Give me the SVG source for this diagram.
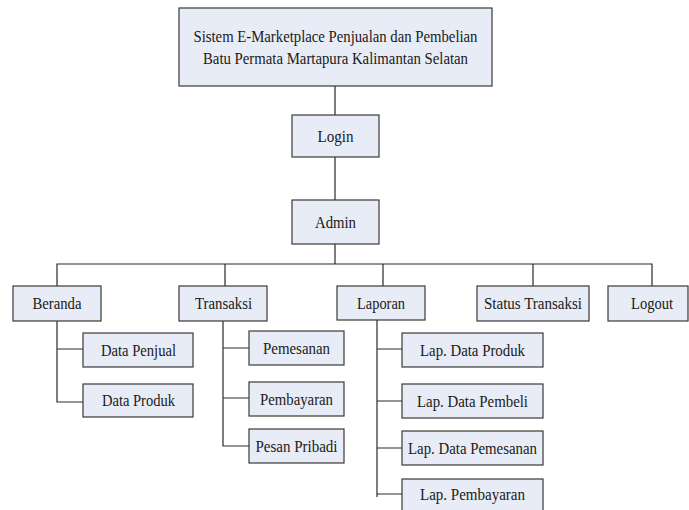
<svg xmlns="http://www.w3.org/2000/svg" width="689" height="510" viewBox="0 0 689 510">
  <style>
    .box { fill: #e7ecf6; stroke: #3a3a3a; stroke-width: 1.2; }
    .lbl { font-family: "Liberation Serif", "Times New Roman", serif; font-size: 16px; fill: #1a1a1a; text-anchor: middle; }
    .conn { stroke: #2a2a2a; stroke-width: 1.2; fill: none; }
  </style>
  <rect width="689" height="510" fill="#ffffff"/>

  <g id="connectors">
    <path class="conn" d="M335 86V115M335 157V200M335 244V264"/>
    <path class="conn" d="M57 286V264H652V286M225 264V286M383 264V286M533 264V286"/>
    <!-- Beranda branch -->
    <path class="conn" d="M57 321V402H83M57 349H83"/>
    <!-- Transaksi branch -->
    <path class="conn" d="M223 321V446H249M223 348H249M223 398H249"/>
    <!-- Laporan branch -->
    <path class="conn" d="M377 320V497M377 349H402M377 401H402M377 448H402M377 494H402"/>
  </g>

  <g id="sistem">
    <rect class="box" x="179" y="8" width="313" height="78"/>
    <text class="lbl" x="335.5" y="42" textLength="284" lengthAdjust="spacingAndGlyphs">Sistem E-Marketplace Penjualan dan Pembelian</text>
    <text class="lbl" x="335.5" y="64" textLength="265" lengthAdjust="spacingAndGlyphs">Batu Permata Martapura Kalimantan Selatan</text>
  </g>
  <g id="login">
    <rect class="box" x="292" y="115" width="87" height="42"/>
    <text class="lbl" x="335.5" y="142" textLength="36" lengthAdjust="spacingAndGlyphs">Login</text>
  </g>
  <g id="admin">
    <rect class="box" x="292" y="200" width="87" height="44"/>
    <text class="lbl" x="335.5" y="228" textLength="41" lengthAdjust="spacingAndGlyphs">Admin</text>
  </g>

  <g id="beranda">
    <rect class="box" x="13" y="286" width="88" height="35"/>
    <text class="lbl" x="57" y="309" textLength="49" lengthAdjust="spacingAndGlyphs">Beranda</text>
  </g>
  <g id="transaksi">
    <rect class="box" x="179" y="286" width="88" height="35"/>
    <text class="lbl" x="223.5" y="309" textLength="57" lengthAdjust="spacingAndGlyphs">Transaksi</text>
  </g>
  <g id="laporan">
    <rect class="box" x="337" y="286" width="88" height="34"/>
    <text class="lbl" x="381" y="308.5" textLength="48" lengthAdjust="spacingAndGlyphs">Laporan</text>
  </g>
  <g id="status-transaksi">
    <rect class="box" x="477" y="286" width="112" height="35"/>
    <text class="lbl" x="533" y="309" textLength="98" lengthAdjust="spacingAndGlyphs">Status Transaksi</text>
  </g>
  <g id="logout">
    <rect class="box" x="608" y="286" width="80" height="35"/>
    <text class="lbl" x="652" y="309" textLength="42" lengthAdjust="spacingAndGlyphs">Logout</text>
  </g>

  <g id="data-penjual">
    <rect class="box" x="83" y="333" width="110" height="34"/>
    <text class="lbl" x="138.5" y="355.5" textLength="75" lengthAdjust="spacingAndGlyphs">Data Penjual</text>
  </g>
  <g id="data-produk">
    <rect class="box" x="83" y="384" width="110" height="33"/>
    <text class="lbl" x="138.5" y="406" textLength="73" lengthAdjust="spacingAndGlyphs">Data Produk</text>
  </g>

  <g id="pemesanan">
    <rect class="box" x="249" y="331" width="95" height="34"/>
    <text class="lbl" x="296.5" y="353.5" textLength="67" lengthAdjust="spacingAndGlyphs">Pemesanan</text>
  </g>
  <g id="pembayaran">
    <rect class="box" x="249" y="382" width="95" height="34"/>
    <text class="lbl" x="296.5" y="404.5" textLength="73" lengthAdjust="spacingAndGlyphs">Pembayaran</text>
  </g>
  <g id="pesan-pribadi">
    <rect class="box" x="249" y="429" width="95" height="34"/>
    <text class="lbl" x="296.5" y="451.5" textLength="82" lengthAdjust="spacingAndGlyphs">Pesan Pribadi</text>
  </g>

  <g id="lap-data-produk">
    <rect class="box" x="402" y="333" width="141" height="34"/>
    <text class="lbl" x="472.5" y="355.5" textLength="105" lengthAdjust="spacingAndGlyphs">Lap. Data Produk</text>
  </g>
  <g id="lap-data-pembeli">
    <rect class="box" x="402" y="384" width="141" height="34"/>
    <text class="lbl" x="472.5" y="406.5" textLength="111" lengthAdjust="spacingAndGlyphs">Lap. Data Pembeli</text>
  </g>
  <g id="lap-data-pemesanan">
    <rect class="box" x="402" y="431" width="141" height="34"/>
    <text class="lbl" x="472.5" y="453.5" textLength="129" lengthAdjust="spacingAndGlyphs">Lap. Data Pemesanan</text>
  </g>
  <g id="lap-pembayaran">
    <rect class="box" x="402" y="479" width="141" height="34"/>
    <text class="lbl" x="472.5" y="500" textLength="105" lengthAdjust="spacingAndGlyphs">Lap. Pembayaran</text>
  </g>
</svg>
